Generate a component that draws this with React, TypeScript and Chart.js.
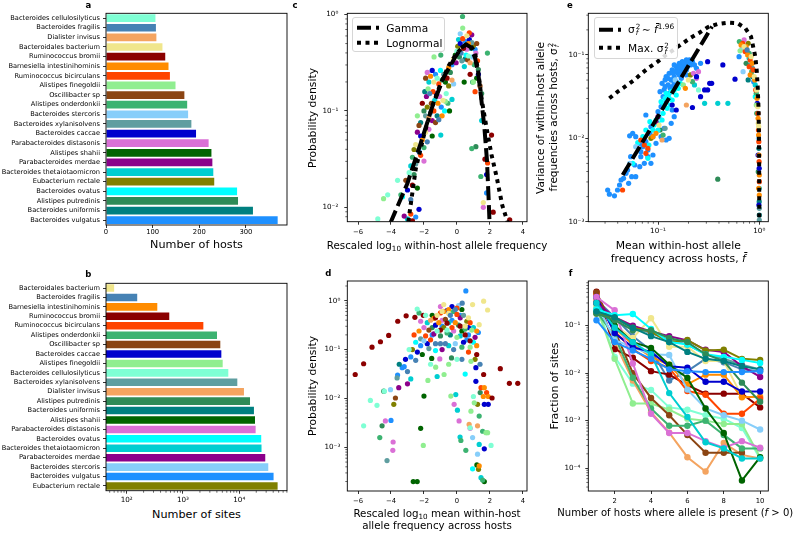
import React, { useEffect, useRef } from 'react';
import { Chart, registerables } from 'chart.js';

Chart.register(...registerables);

const FONT = 'DejaVu Sans';

// ---------- species ----------
const speciesNames = [
  'Bacteroides cellulosilyticus', 'Bacteroides fragilis', 'Dialister invisus', 'Bacteroidales bacterium',
  'Ruminococcus bromii', 'Barnesiella intestinihominis', 'Ruminococcus bicirculans', 'Alistipes finegoldii',
  'Oscillibacter sp', 'Alistipes onderdonkii', 'Bacteroides stercoris', 'Bacteroides xylanisolvens',
  'Bacteroides caccae', 'Parabacteroides distasonis', 'Alistipes shahii', 'Parabacteroides merdae',
  'Bacteroides thetaiotaomicron', 'Eubacterium rectale', 'Bacteroides ovatus', 'Alistipes putredinis',
  'Bacteroides uniformis', 'Bacteroides vulgatus',
];
const speciesColors = [
  '#7fffd4', '#4682b4', '#f4a460', '#f0e68c', '#8b0000', '#ff8c00', '#ff4500', '#90ee90',
  '#8b4513', '#3cb371', '#87cefa', '#5f9ea0', '#0000cd', '#da70d6', '#006400', '#8b008b',
  '#00ced1', '#808000', '#00ffff', '#2e8b57', '#008080', '#1e90ff',
];

// ---------- panel a ----------
const hostsOrder = [0, 1, 2, 3, 4, 5, 6, 7, 8, 9, 10, 11, 12, 13, 14, 15, 16, 17, 18, 19, 20, 21];
const hostsCount = [106, 107, 108, 121, 127, 134, 137, 149, 168, 174, 176, 183, 193, 220, 226, 228, 230, 232, 281, 283, 315, 368];
const hostsTicks = [0, 100, 200, 300];
const hostsTickLabels = ['0', '100', '200', '300'];

// ---------- panel b ----------
const sitesOrder = [3, 1, 5, 4, 6, 9, 8, 12, 7, 0, 11, 2, 19, 20, 14, 13, 18, 16, 15, 10, 21, 17];
const sitesCount = [60, 154, 350, 571, 2300, 4020, 4600, 4800, 5070, 6380, 9220, 12100, 15500, 18200, 19000, 19500, 24500, 24800, 28900, 32700, 40600, 47900];
const sitesTicks = [100, 1000, 10000];
const sitesTickLabels = ['10²', '10³', '10⁴'];

// ---------- panel c ----------
const rescaledTicks = [-6, -4, -2, 0, 2, 4];
const rescaledTickLabels = ['−6', '−4', '−2', '0', '2', '4'];
const cYTicks = [0.01, 0.1, 1];
const cYTickLabels = ['10⁻²', '10⁻¹', '10⁰'];
const gammaX = [-4.05, -3.0, -2.2, -1.5, -0.8, -0.1, 0.3, 0.55, 0.85, 1.1, 1.3, 1.46, 1.66, 1.82, 1.92, 1.98];
const gammaY = [0.0068, 0.0178, 0.0462, 0.11, 0.224, 0.363, 0.457, 0.49, 0.457, 0.355, 0.24, 0.141, 0.069, 0.031, 0.0126, 0.0068];
const lognormX = [-2.95, -2.5, -2.0, -1.5, -1.0, -0.5, 0.0, 0.5, 0.8, 1.1, 1.3, 1.5, 1.8, 2.1, 2.4, 2.75, 3.1];
const lognormY = [0.0071, 0.025, 0.056, 0.112, 0.19, 0.295, 0.4, 0.48, 0.49, 0.4, 0.25, 0.132, 0.066, 0.035, 0.021, 0.0105, 0.0068];
// [rescaled log10 frequency, log10 density, species]
const cPoints: number[][] = [
  [0.34, -0.02, 9], [0.35, -0.14, 7], [0.6, -0.22, 3], [0.75, -0.19, 6], [0.9, -0.21, 15], [0.1, -0.26, 16], [0.2, -0.3, 12],
  [0.5, -0.28, 21], [0.7, -0.3, 5], [1.0, -0.32, 17], [0.85, -0.35, 20], [0.4, -0.35, 4], [0.0, -0.38, 0], [-0.1, -0.42, 14],
  [0.15, -0.44, 19], [0.55, -0.42, 18], [0.95, -0.44, 10], [1.15, -0.4, 13], [1.25, -0.48, 6], [0.3, -0.48, 11], [0.65, -0.47, 8],
  [0.8, -0.5, 2], [-0.3, -0.52, 21], [1.05, -0.52, 9], [0.45, -0.54, 16], [-0.5, -0.55, 5], [1.3, -0.57, 19], [0.25, -0.4, 1],
  [0.6, -0.36, 13], [0.05, -0.33, 17], [-0.2, -0.46, 3], [1.1, -0.36, 21], [0.7, -0.43, 0], [0.9, -0.29, 11], [0.35, -0.25, 6],
  [0.2, -0.2, 10], [0.75, -0.26, 12], [1.2, -0.3, 8], [-0.05, -0.5, 15], [0.5, -0.46, 20],
  [1.2, -0.66, 14], [1.0, -0.7, 7], [0.44, -0.7, 14], [0.95, -0.7, 9], [1.3, -0.62, 12], [1.4, -0.74, 8], [1.5, -0.82, 19],
  [1.85, -0.4, 9], [0.8, -0.62, 4], [1.1, -0.8, 6],
  [0.9, -1.39, 9], [1.15, -1.37, 19], [1.45, -1.68, 9], [1.86, -1.54, 6], [1.8, -1.66, 12], [1.7, -1.5, 4], [1.6, -1.95, 3],
  [1.6, -2.0, 13], [2.2, -2.05, 4], [3.2, -2.13, 4], [1.8, -1.85, 21], [2.1, -1.25, 4], [1.5, -1.1, 16],
  [-1.9, -0.66, 8], [-1.8, -0.6, 13], [-1.7, -0.7, 16], [-1.6, -0.64, 5], [-1.5, -0.58, 12], [-1.4, -0.7, 3], [-1.3, -0.62, 21],
  [-1.2, -0.66, 0], [-1.1, -0.72, 6], [-1.0, -0.58, 18], [-0.9, -0.68, 9], [-0.8, -0.62, 11], [-0.7, -0.7, 14], [-0.6, -0.66, 4],
  [-0.5, -0.74, 17], [-0.4, -0.6, 19], [-0.3, -0.68, 2], [-0.2, -0.72, 10],
  [-1.95, -0.8, 20], [-1.85, -0.85, 15], [-1.75, -0.77, 7], [-1.65, -0.82, 1], [-1.55, -0.92, 8], [-1.45, -0.8, 6],
  [-1.35, -0.89, 16], [-1.25, -0.82, 12], [-1.15, -0.92, 5], [-1.05, -0.85, 13], [-0.95, -0.96, 21], [-0.85, -0.89, 3],
  [-0.75, -1.0, 18], [-0.65, -0.82, 0], [-0.55, -0.92, 9], [-0.45, -1.0, 14],
  [-2.1, -0.92, 4], [-2.0, -1.0, 19], [-1.9, -1.05, 11], [-1.8, -0.96, 17], [-1.7, -1.07, 2], [-1.6, -1.02, 10], [-1.5, -1.1, 15],
  [-1.4, -1.0, 6], [-1.2, -1.05, 20], [-1.1, -1.09, 1], [-0.9, -1.05, 5], [-0.98, -1.25, 16], [-1.39, -0.44, 7], [-0.98, -0.42, 9],
  [-1.3, -1.12, 8], [-0.7, -0.9, 7], [-0.3, -0.88, 16],
  [-2.3, -1.15, 8], [-2.2, -1.26, 12], [-2.4, -1.22, 15], [-2.1, -1.3, 5], [-2.5, -1.35, 3], [-2.6, -1.4, 17], [-2.3, -1.42, 21],
  [-2.7, -1.48, 9], [-2.2, -1.46, 6], [-2.8, -1.57, 16], [-2.5, -1.55, 11], [-2.0, -1.52, 13], [-2.9, -1.64, 0], [-2.6, -1.66, 19],
  [-3.1, -1.72, 8], [-2.7, -1.77, 4], [-3.0, -1.82, 12], [-2.4, -1.8, 14], [-3.3, -1.89, 18], [-2.8, -1.92, 1], [-3.6, -1.72, 0],
  [-4.2, -1.87, 0], [-4.45, -1.91, 7], [-3.4, -1.87, 9], [-2.8, -2.07, 6], [-2.5, -2.1, 21], [-3.0, -2.12, 16], [-2.7, -2.14, 4],
  [-4.8, -2.12, 0], [-3.2, -2.09, 15], [-2.3, -2.02, 12], [-2.2, -1.12, 20], [-1.9, -1.22, 3], [-1.7, -1.19, 13], [-2.4, -1.05, 7],
  [-1.5, -1.26, 14], [-2.0, -1.38, 9], [-1.8, -1.32, 1],
];

// ---------- panel d ----------
const dYTicks = [0.001, 0.01, 0.1, 1];
const dYTickLabels = ['10⁻³', '10⁻²', '10⁻¹', '10⁰'];
// [rescaled log10 mean frequency, log10 density, species]
const dPoints: number[][] = [
  [-6.17, -1.51, 4], [-5.66, -1.29, 4], [-5.15, -0.95, 4], [-4.64, -0.84, 4], [-4.14, -0.71, 4], [-3.59, -0.42, 4], [-3.08, -0.31, 4],
  [-2.55, -0.34, 4], [-2.04, -0.3, 4], [2.63, -1.39, 4], [3.18, -1.69, 4], [3.69, -1.69, 4], [2.13, -1.99, 4], [1.62, -1.51, 4],
  [-1.3, -0.35, 4], [-0.6, -0.46, 4], [0.2, -0.52, 4], [0.8, -0.82, 4], [1.2, -1.1, 4], [-1.0, -0.6, 4], [0.5, -0.7, 4],
  [1.62, -0.01, 3], [1.86, -0.19, 3], [0.95, -0.08, 3], [1.35, -0.49, 3], [-0.9, -0.22, 3], [-0.5, -0.26, 3], [0.5, -0.52, 3], [0.7, -0.35, 3],
  [0.54, 0.2, 21], [0.2, -0.3, 21], [-0.3, -0.4, 21], [-0.9, -0.52, 21], [-1.5, -0.7, 21], [-2.2, -0.92, 21], [-2.8, -1.15, 21],
  [-3.2, -1.35, 21], [-3.6, -1.52, 21], [-4.0, -2.45, 21], [0.7, -0.7, 21], [1.3, -0.65, 21],
  [0.32, -0.05, 1], [-0.4, -0.3, 1], [-1.3, -0.88, 1], [-1.0, -0.88, 1], [-0.7, -0.88, 1], [-0.2, -1.0, 1], [0.3, -1.2, 1],
  [-2.5, -1.22, 1], [-3.0, -1.45, 1], [1.4, -1.3, 1], [-0.1, -0.18, 1],
  [-2.41, -0.17, 0], [-5.66, -2.56, 0], [-5.25, -2.04, 0], [-4.85, -2.14, 0], [-4.4, -1.85, 0], [-1.6, -1.3, 0], [-2.9, -1.0, 0],
  [0.8, -2.6, 0], [1.0, -1.96, 0], [-0.6, -0.6, 0], [2.07, -2.96, 0],
  [-2.6, -0.7, 6], [-2.3, -0.62, 5], [-2.0, -0.55, 13], [-1.8, -0.45, 16], [-1.6, -0.4, 2], [-1.4, -0.36, 5], [-1.2, -0.3, 3],
  [-1.0, -0.25, 6], [-0.8, -0.22, 5], [-0.6, -0.2, 12], [-0.4, -0.25, 18], [-0.2, -0.22, 9], [0.0, -0.28, 6], [0.2, -0.35, 15],
  [0.4, -0.3, 11], [0.6, -0.42, 17], [0.8, -0.45, 6], [1.0, -0.55, 16], [1.2, -0.62, 5],
  [-2.5, -0.85, 18], [-2.2, -0.78, 11], [-1.9, -0.72, 6], [-1.7, -0.6, 8], [-1.5, -0.55, 19], [-1.3, -0.5, 12], [-1.1, -0.45, 5],
  [-0.9, -0.4, 13], [-0.7, -0.38, 8], [-0.5, -0.45, 16], [-0.3, -0.55, 6], [-0.1, -0.45, 5], [0.1, -0.5, 19], [0.3, -0.62, 14],
  [0.5, -0.58, 9], [0.7, -0.55, 12], [0.9, -0.6, 7], [1.1, -0.75, 15],
  [-2.0, -0.82, 10], [-1.8, -0.88, 12], [-1.6, -0.8, 6], [-1.4, -0.68, 15], [-1.2, -0.62, 0], [-1.0, -0.72, 19], [-0.8, -0.55, 17],
  [-0.6, -0.66, 9], [-0.4, -0.7, 20], [-0.2, -0.62, 13], [0.0, -0.75, 7], [0.2, -0.72, 16], [0.4, -0.85, 12], [0.6, -0.8, 21],
  [0.8, -0.95, 7], [1.0, -0.85, 18], [1.2, -0.92, 5],
  [-2.7, -1.0, 17], [-2.4, -1.05, 12], [-2.1, -1.1, 14], [-1.7, -0.98, 11], [-1.3, -1.02, 18], [-0.9, -1.0, 15], [-0.5, -0.92, 16],
  [-0.1, -0.88, 10], [0.3, -0.95, 9], [0.7, -1.05, 6], [1.1, -1.2, 17],
  [-1.5, -0.3, 14], [-1.0, -0.12, 13], [-0.5, -0.18, 5], [0.0, -0.15, 6], [-0.8, -0.08, 3], [-0.3, -0.12, 12], [0.3, -0.18, 14],
  [0.1, -0.1, 10], [-2.2, -0.42, 13], [-1.9, -0.3, 0], [-2.3, -0.25, 9],
  [-3.12, -1.2, 12], [-3.32, -1.37, 21], [-3.63, -1.58, 11], [-3.53, -1.78, 15], [-3.73, -1.99, 8], [-3.83, -2.12, 17],
  [-4.34, -2.46, 13], [-4.54, -2.56, 19], [-4.68, -2.8, 9], [-4.24, -3.27, 11], [-3.87, -2.89, 13], [-3.89, -3.06, 13],
  [-4.44, -1.85, 19], [-4.03, -1.82, 10],
  [-2.2, -2.61, 14], [-2.04, -2.96, 7], [-2.65, -3.7, 14], [-2.41, -3.7, 14], [-2.0, -1.95, 14], [-1.76, -1.63, 7], [-1.53, -1.18, 14],
  [-1.29, -1.36, 7], [-1.04, -1.19, 13], [-0.78, -1.51, 7], [-0.33, -1.17, 19], [-0.37, -1.95, 7], [-0.07, -1.92, 16],
  [-0.17, -2.12, 13], [0.13, -2.46, 13], [0.03, -2.24, 16], [0.19, -2.79, 16], [0.24, -2.86, 9], [0.54, -3.06, 9], [0.74, -2.53, 2],
  [0.8, -2.61, 13], [0.95, -2.8, 10], [0.85, -2.26, 7],
  [0.85, -1.24, 7], [1.15, -1.37, 12], [1.15, -1.65, 12], [1.46, -1.78, 6], [1.66, -1.78, 5], [1.41, -1.88, 19], [1.05, -2.09, 7],
  [1.25, -2.12, 17], [1.35, -2.36, 9], [1.25, -2.56, 2], [1.56, -2.67, 9], [1.76, -2.7, 7], [1.86, -2.7, 7], [1.35, -2.94, 16],
  [1.66, -3.03, 12], [1.25, -3.14, 10], [1.21, -3.36, 14], [1.35, -3.38, 5], [1.31, -3.45, 17], [0.95, -3.44, 18], [1.46, -3.62, 16],
  [1.56, -3.67, 9], [1.66, -3.7, 14], [1.9, -2.12, 12], [1.66, -2.12, 12], [1.6, -1.96, 5], [1.8, -1.88, 6], [1.9, -1.96, 5],
  [-3.5, -1.3, 20], [-2.8, -1.6, 16], [-3.0, -1.7, 15], [-1.2, -1.55, 16], [-0.5, -1.3, 7], [0.5, -1.5, 18], [0.0, -1.2, 0],
];

// ---------- panel e ----------
const eXTicks = [0.1, 1];
const eXTickLabels = ['10⁻¹', '10⁰'];
const eYTicks = [0.001, 0.01, 0.1];
const eYTickLabels = ['10⁻³', '10⁻²', '10⁻¹'];
const powerLawX = [0.0448, 0.12, 0.341];
const powerLawY = [0.00363, 0.0265, 0.219];
const maxVarX = [0.0331, 0.04, 0.0483, 0.0583, 0.0679, 0.082, 0.0993, 0.12, 0.145, 0.175, 0.212, 0.256, 0.309, 0.388, 0.487, 0.611, 0.728, 0.828, 0.914, 0.942, 0.964, 0.984, 0.992, 0.996, 0.998, 0.999];
const maxVarY = [0.0302, 0.0363, 0.0425, 0.0501, 0.0592, 0.0711, 0.0832, 0.1, 0.117, 0.138, 0.162, 0.185, 0.215, 0.235, 0.244, 0.24, 0.209, 0.166, 0.095, 0.066, 0.042, 0.022, 0.0105, 0.0055, 0.0026, 0.00095];
// [log10 mean frequency, log10 variance, species]
const ePoints: number[][] = [
  [-0.92, -1.26, 21], [-0.89, -1.22, 21], [-0.86, -1.18, 21], [-0.82, -1.14, 21], [-0.79, -1.10, 21], [-0.76, -1.08, 21],
  [-0.72, -1.06, 21], [-0.69, -1.06, 21], [-0.66, -1.08, 21], [-0.87, -1.30, 21], [-0.84, -1.26, 21], [-0.80, -1.22, 21],
  [-0.77, -1.18, 21], [-0.74, -1.16, 21], [-0.71, -1.14, 21], [-0.90, -1.36, 21], [-0.86, -1.38, 21], [-0.82, -1.32, 21],
  [-0.77, -1.28, 21], [-0.72, -1.24, 21], [-0.94, -1.42, 21], [-0.89, -1.46, 21], [-0.95, -1.50, 21], [-0.92, -1.56, 21],
  [-0.97, -1.62, 21], [-1.0, -1.68, 21], [-0.84, -1.12, 21], [-0.80, -1.16, 21], [-0.75, -1.12, 21], [-0.70, -1.10, 21],
  [-0.58, -1.10, 21], [-0.62, -1.16, 21],
  [-0.96, -1.34, 21], [-0.93, -1.30, 21], [-0.90, -1.28, 21], [-0.85, -1.22, 21], [-0.81, -1.18, 21], [-0.78, -1.14, 21],
  [-0.74, -1.10, 21], [-0.88, -1.40, 21], [-0.84, -1.34, 21], [-0.79, -1.24, 21], [-0.76, -1.20, 21], [-0.98, -1.44, 21],
  [-0.93, -1.38, 21], [-0.86, -1.30, 21], [-0.83, -1.20, 21], [-0.68, -1.12, 21], [-0.72, -1.18, 21], [-0.64, -1.12, 21],
  [-1.07, -1.86, 21], [-1.08, -1.94, 21], [-1.05, -1.98, 21], [-1.12, -2.04, 21], [-1.15, -2.10, 21], [-1.10, -2.14, 21],
  [-1.02, -2.06, 21], [-0.97, -1.98, 21], [-0.92, -2.02, 21], [-0.89, -2.0, 21], [-0.94, -1.88, 21], [-0.86, -1.66, 21],
  [-0.84, -1.74, 21], [-0.87, -1.82, 21], [-1.12, -1.72, 21], [-1.28, -1.97, 21], [-1.25, -1.94, 21], [-1.22, -1.98, 21],
  [-1.18, -2.06, 21], [-1.15, -2.04, 21], [-1.17, -2.16, 21], [-1.27, -2.22, 21], [-1.23, -2.32, 21], [-1.22, -2.46, 21],
  [-1.18, -2.34, 21], [-1.17, -2.22, 21], [-1.135, -2.30, 21], [-1.10, -2.22, 21], [-1.07, -2.30, 21], [-1.05, -2.20, 21],
  [-1.316, -2.42, 21], [-1.30, -2.38, 21], [-1.34, -2.48, 21], [-1.365, -2.50, 21], [-1.38, -2.56, 21], [-1.40, -2.62, 21],
  [-1.43, -2.69, 21], [-1.48, -2.67, 21], [-1.497, -2.62, 21], [-1.26, -2.46, 21], [-1.29, -2.54, 21], [-0.2, -1.02, 21],
  [-0.92, -1.46, 18], [-0.87, -1.44, 18], [-0.84, -1.42, 18], [-0.82, -1.48, 18], [-0.89, -1.52, 18], [-0.94, -1.60, 18],
  [-0.91, -1.64, 18], [-0.95, -1.70, 18], [-0.99, -1.74, 18], [-1.02, -1.78, 18], [-1.04, -1.84, 18], [-1.0, -1.90, 18],
  [-0.86, -1.54, 18], [-0.80, -1.40, 18], [-0.78, -1.34, 18], [-0.04, -1.5, 18], [-1.09, -2.08, 18],
  [-0.97, -1.56, 18], [-0.93, -1.52, 18], [-0.90, -1.48, 18], [-0.88, -1.60, 18], [-1.05, -1.90, 18], [-1.08, -1.80, 18],
  [-1.12, -1.90, 18], [-1.15, -1.98, 18], [-1.20, -2.05, 18], [-1.0, -1.82, 18], [-0.96, -1.78, 18], [-1.10, -2.24, 18],
  [-1.25, -2.30, 18],
  [-1.22, -2.1, 10], [-0.83, -1.3, 10], [-1.28, -2.3, 10], [-0.16, -1.2, 10], [-0.008, -2.0, 10], [-0.17, -0.92, 10],
  [-1.35, -2.62, 6], [-1.10, -2.12, 6], [-1.12, -2.18, 6], [-1.135, -2.08, 6], [-1.17, -2.02, 6], [-0.164, -0.86, 6],
  [-0.14, -0.96, 6], [-0.09, -1.06, 6], [-0.06, -1.18, 6], [-0.035, -1.42, 6], [-0.014, -1.7, 6], [-0.008, -1.9, 6],
  [-0.005, -2.04, 6], [-0.002, -2.28, 6], [0, -2.52, 6], [-0.1, -1.14, 6],
  [-1.05, -1.98, 5], [-1.02, -1.94, 5], [-0.73, -1.40, 5], [-0.18, -0.88, 5], [-0.13, -0.90, 5], [-0.115, -1.0, 5],
  [-0.07, -1.10, 5], [-0.045, -1.3, 5], [-0.022, -1.52, 5], [-0.012, -1.76, 5], [-0.007, -1.96, 5], [-0.003, -2.2, 5],
  [0, -2.44, 5], [0, -2.68, 5], [-0.09, -1.24, 5], [-0.006, -2.6, 5],
  [-0.96, -2.02, 2], [-0.72, -1.6, 2],
  [-1.0, -1.74, 15], [-1.02, -1.8, 15], [-0.98, -1.9, 19], [-0.95, -1.96, 9], [-1.07, -2.0, 17], [-0.93, -1.88, 11], [-0.99, -1.84, 3],
  [-0.65, -1.22, 13], [-0.62, -1.28, 13], [-0.60, -1.2, 13], [-0.68, -1.24, 17], [-0.7, -1.3, 3], [-0.75, -1.36, 7],
  [-0.64, -1.36, 16], [-0.6, -1.42, 0], [-0.66, -1.32, 9],
  [-0.51, -1.08, 12], [-0.36, -1.12, 12], [-0.49, -1.34, 12], [-0.47, -1.34, 12], [-0.54, -1.42, 12], [-0.51, -1.42, 12],
  [-0.58, -1.5, 12], [-0.66, -1.63, 12], [-0.24, -1.29, 12], [-0.62, -1.26, 12], [-0.82, -1.66, 12], [-0.86, -1.6, 12],
  [-0.02, -1.58, 12], [-0.001, -2.36, 12], [-0.012, -2.2, 12], [-0.004, -2.8, 12],
  [-0.54, -1.58, 16], [-0.41, -1.58, 16], [-0.31, -1.58, 16], [-0.10, -1.04, 16], [-0.04, -1.36, 16], [0, -2.6, 16],
  [-0.41, -2.49, 19], [-0.13, -1.1, 19], [-0.01, -2.4, 19],
  [-0.197, -0.84, 9], [-0.15, -0.90, 3], [-0.12, -0.94, 1], [-0.10, -0.98, 9], [-0.08, -1.02, 3], [-0.085, -1.12, 21],
  [-0.066, -1.16, 11], [-0.075, -1.2, 9], [-0.065, -1.26, 20], [-0.05, -1.26, 3], [-0.055, -1.32, 21], [-0.03, -1.46, 9],
  [-0.026, -1.42, 3], [-0.016, -1.62, 3], [-0.01, -1.82, 3], [-0.004, -2.12, 20], [-0.001, -2.76, 20], [0, -2.84, 11],
  [0, -2.92, 20], [0, -2.98, 11], [-0.15, -0.82, 13], [-0.11, -0.86, 17], [-0.19, -0.95, 7], [-0.11, -1.3, 20],
  [-0.006, -1.86, 3], [-0.03, -1.6, 7], [-0.026, -1.7, 9],
];

// ---------- panel f ----------
const hostsPresent = [1, 2, 3, 4, 5, 6, 7, 8, 9, 10];
const fXTicks = [2, 4, 6, 8, 10];
const fXTickLabels = ['2', '4', '6', '8', '10'];
const fYTicks = [0.0001, 0.001, 0.01, 0.1];
const fYTickLabels = ['10⁻⁴', '10⁻³', '10⁻²', '10⁻¹'];
// fraction of sites, one row per species (same order as speciesNames)
const fractionSites: (number | null)[][] = [
  [0.30, 0.022, 0.006, 0.0044, 0.0019, 0.0017, 0.0013, 0.0011, 0.0007, 0.00016],
  [0.35, 0.15, 0.06, 0.03, 0.007, 0.011, 0.02, 0.017, 0.012, 0.011],
  [0.35, 0.045, 0.007, 0.0015, 0.00056, 0.00017, 0.000085, 0.00034, 0.00019, 0.00016],
  [0.28, 0.1, 0.055, 0.143, 0.036, 0.036, 0.018, 0.018, 0.0032, null],
  [0.52, 0.032, 0.021, 0.011, 0.0093, 0.0056, 0.0037, 0.0037, 0.0037, 0.0019],
  [0.45, 0.09, 0.04, 0.022, 0.015, 0.0058, 0.0093, 0.0093, 0.0031, 0.0032],
  [0.48, 0.075, 0.032, 0.018, 0.013, 0.0042, 0.0035, 0.0014, 0.0014, 0.0029],
  [0.25, 0.02, 0.0023, 0.0023, 0.0017, 0.0011, 0.001, 0.00085, 0.00085, 0.00017],
  [0.5, 0.08, 0.01, 0.003, 0.0013, 0.0005, 0.00021, 0.00021, 0.00021, null],
  [0.2, 0.06, 0.008, 0.0018, 0.00078, 0.00078, 0.001, 0.0005, 0.00026, 0.00026],
  [0.3, 0.05, 0.035, 0.025, 0.024, 0.0045, 0.0018, 0.0013, 0.001, 0.00065],
  [0.22, 0.14, 0.09, 0.07, 0.05, 0.04, 0.025, 0.02, 0.015, 0.012],
  [0.4, 0.07, 0.035, 0.028, 0.014, 0.013, 0.0066, 0.0066, 0.0041, 0.0041],
  [0.4, 0.21, 0.016, 0.0014, 0.00055, 0.00055, 0.00037, 0.00027, 0.00037, 0.00027],
  [0.3, 0.1, 0.045, 0.034, 0.015, 0.0079, 0.0018, 0.00055, 0.000055, 0.00017],
  [0.3, 0.15, 0.1, 0.075, 0.06, 0.049, 0.031, 0.028, 0.014, 0.0083],
  [0.3, 0.09, 0.045, 0.025, 0.0038, 0.0012, 0.00035, 0.00026, 0.00016, 0.00016],
  [0.18, 0.15, 0.09, 0.075, 0.045, 0.05, 0.03, 0.031, 0.02, 0.019],
  [0.22, 0.165, 0.176, 0.085, 0.045, 0.04, 0.025, 0.022, 0.019, 0.0164],
  [0.18, 0.13, 0.08, 0.08, 0.055, 0.045, 0.025, 0.018, 0.0063, 0.0025],
  [0.2, 0.15, 0.09, 0.06, 0.045, 0.028, 0.02, 0.018, 0.014, 0.012],
  [0.13, 0.045, 0.03, 0.02, 0.012, 0.011, 0.0105, 0.0105, 0.0105, 0.011],
];

// ---------- layout helpers ----------
type Box = { L: number; T: number; R: number; B: number };
const PAD_TOP = 10;
const PAD_RIGHT = 8;

function makeLayout(b: Box, ml: number, mb: number) {
  const x0 = Math.floor(b.L - ml);
  const y0 = Math.floor(b.T - PAD_TOP);
  const w = Math.ceil(b.R + PAD_RIGHT) - x0;
  const h = Math.ceil(b.B + mb) - y0;
  return {
    x0, y0, w, h,
    padding: { top: b.T - y0, right: x0 + w - b.R, left: 0, bottom: 0 },
    yW: b.L - x0,
    xH: y0 + h - b.B,
  };
}

const framePlugin = {
  id: 'frame',
  afterDraw(chart: any) {
    const { ctx, chartArea: a } = chart;
    ctx.save();
    ctx.strokeStyle = '#000';
    ctx.lineWidth = 0.6;
    for (const key of ['x', 'y']) {
      const s = chart.scales[key];
      if (!s || s.type !== 'logarithmic') continue;
      const lo = Math.floor(Math.log10(s.min));
      const hi = Math.ceil(Math.log10(s.max));
      for (let e = lo; e <= hi; e++) {
        for (let k = 2; k <= 9; k++) {
          const v = k * Math.pow(10, e);
          if (v < s.min || v > s.max) continue;
          const p = s.getPixelForValue(v);
          ctx.beginPath();
          if (key === 'x') { ctx.moveTo(p, a.bottom); ctx.lineTo(p, a.bottom + 2); }
          else { ctx.moveTo(a.left, p); ctx.lineTo(a.left - 2, p); }
          ctx.stroke();
        }
      }
    }
    ctx.lineWidth = 0.9;
    ctx.strokeRect(a.left, a.top, a.right - a.left, a.bottom - a.top);
    ctx.restore();
  },
};

function valueAxis(type: string, min: number, max: number, ticks: number[], labels: string[], size: number, pad: number, fit: (s: any) => void) {
  return {
    type, min, max,
    afterBuildTicks: (s: any) => { s.ticks = ticks.map((v) => ({ value: v, major: true })); },
    afterFit: fit,
    ticks: {
      autoSkip: false, maxRotation: 0, color: '#000', padding: pad,
      font: { family: FONT, size },
      callback: (_v: any, i: number) => labels[i],
    },
    grid: { drawOnChartArea: false, drawTicks: true, tickLength: 3, tickColor: '#000', tickWidth: 0.8 },
    border: { display: false },
  };
}

function baseOptions(lay: any, scales: any) {
  return {
    animation: false,
    responsive: true,
    maintainAspectRatio: false,
    events: [],
    layout: { padding: lay.padding },
    plugins: { legend: { display: false }, tooltip: { enabled: false }, title: { display: false } },
    scales,
  };
}

function scatterSets(points: number[][], logX: boolean, logY: boolean, radius: number) {
  return speciesNames.map((name, s) => ({
    label: name,
    data: points.filter((p) => p[2] === s).map((p) => ({ x: logX ? Math.pow(10, p[0]) : p[0], y: logY ? Math.pow(10, p[1]) : p[1] })),
    backgroundColor: speciesColors[s],
    borderColor: speciesColors[s],
    pointRadius: radius,
    pointBorderWidth: 0,
    showLine: false,
  }));
}

function curveSet(label: string, xs: number[], ys: number[], dash: number[]) {
  return {
    label,
    data: xs.map((x, i) => ({ x, y: ys[i] })),
    showLine: true,
    borderColor: '#000',
    backgroundColor: '#000',
    borderWidth: 4,
    borderDash: dash,
    borderCapStyle: 'butt',
    pointRadius: 0,
    tension: 0,
    fill: false,
  };
}

// ---------- chart builders ----------
const plotA: Box = { L: 106, T: 13.3, R: 287, B: 225 };
const plotB: Box = { L: 106, T: 283.3, R: 287, B: 490.7 };
const plotC: Box = { L: 347.3, T: 13.3, R: 527, B: 221.7 };
const plotD: Box = { L: 347.3, T: 281, R: 527, B: 491 };
const plotE: Box = { L: 588.3, T: 13.3, R: 768.3, B: 221.7 };
const plotF: Box = { L: 588.3, T: 281, R: 768.3, B: 491 };

function categoryAxis(fit: (s: any) => void) {
  return {
    type: 'category',
    offset: true,
    afterFit: fit,
    ticks: { autoSkip: false, color: '#000', padding: 3, font: { family: FONT, size: 6.65 } },
    grid: { offset: false, drawOnChartArea: false, drawTicks: true, tickLength: 3, tickColor: '#000', tickWidth: 0.8 },
    border: { display: false },
  };
}

function buildA(lay: any) {
  return {
    type: 'bar',
    data: {
      labels: hostsOrder.map((s) => speciesNames[s]),
      datasets: [{ data: hostsCount, backgroundColor: hostsOrder.map((s) => speciesColors[s]), barPercentage: 0.8, categoryPercentage: 1, borderWidth: 0 }],
    },
    options: {
      ...baseOptions(lay, {
        x: valueAxis('linear', 0, 388, hostsTicks, hostsTickLabels, 6.8, 0, (s: any) => { s.height = lay.xH; }),
        y: categoryAxis((s: any) => { s.width = lay.yW; }),
      }),
      indexAxis: 'y',
    },
    plugins: [framePlugin],
  };
}

function buildB(lay: any) {
  return {
    type: 'bar',
    data: {
      labels: sitesOrder.map((s) => speciesNames[s]),
      datasets: [{ data: sitesCount, backgroundColor: sitesOrder.map((s) => speciesColors[s]), barPercentage: 0.8, categoryPercentage: 1, borderWidth: 0 }],
    },
    options: {
      ...baseOptions(lay, {
        x: valueAxis('logarithmic', 43, 70300, sitesTicks, sitesTickLabels, 7.2, 2, (s: any) => { s.height = lay.xH; }),
        y: categoryAxis((s: any) => { s.width = lay.yW; }),
      }),
      indexAxis: 'y',
    },
    plugins: [framePlugin],
  };
}

function buildC(lay: any) {
  return {
    type: 'scatter',
    data: {
      datasets: [
        curveSet('Gamma', gammaX, gammaY, [14, 5]),
        curveSet('Lognormal', lognormX, lognormY, [4, 4.5]),
        ...scatterSets(cPoints, false, true, 2.6),
      ],
    },
    options: baseOptions(lay, {
      x: valueAxis('linear', -6.65, 4.25, rescaledTicks, rescaledTickLabels, 6.8, 3, (s: any) => { s.height = lay.xH; }),
      y: valueAxis('logarithmic', 0.0071, 1.03, cYTicks, cYTickLabels, 7.2, 6, (s: any) => { s.width = lay.yW; }),
    }),
    plugins: [framePlugin],
  };
}

function buildD(lay: any) {
  return {
    type: 'scatter',
    data: { datasets: scatterSets(dPoints, false, true, 2.6) },
    options: baseOptions(lay, {
      x: valueAxis('linear', -6.65, 4.25, rescaledTicks, rescaledTickLabels, 6.8, 3, (s: any) => { s.height = lay.xH; }),
      y: valueAxis('logarithmic', 0.000128, 2.53, dYTicks, dYTickLabels, 7.2, 4, (s: any) => { s.width = lay.yW; }),
    }),
    plugins: [framePlugin],
  };
}

function buildE(lay: any) {
  return {
    type: 'scatter',
    data: {
      datasets: [
        curveSet('power law', powerLawX, powerLawY, [14, 5]),
        curveSet('max variance', maxVarX, maxVarY, [4, 4.5]),
        ...scatterSets(ePoints, true, true, 2.6),
      ],
    },
    options: baseOptions(lay, {
      x: valueAxis('logarithmic', 0.0205, 1.227, eXTicks, eXTickLabels, 7.2, 2, (s: any) => { s.height = lay.xH; }),
      y: valueAxis('logarithmic', 0.001, 0.316, eYTicks, eYTickLabels, 7.2, 1, (s: any) => { s.width = lay.yW; }),
    }),
    plugins: [framePlugin],
  };
}

function buildF(lay: any) {
  const sets = speciesNames.map((name, s) => ({
    label: name,
    data: hostsPresent
      .map((n, i) => ({ x: n, y: fractionSites[s][i] }))
      .filter((p) => p.y !== null),
    showLine: true,
    borderColor: speciesColors[s],
    backgroundColor: speciesColors[s],
    borderWidth: 2,
    pointRadius: 3.2,
    pointBorderWidth: 0,
    tension: 0,
  }));
  return {
    type: 'scatter',
    data: { datasets: sets.reverse() },
    options: baseOptions(lay, {
      x: valueAxis('linear', 0.55, 10.45, fXTicks, fXTickLabels, 6.8, 3, (s: any) => { s.height = lay.xH; }),
      y: valueAxis('logarithmic', 0.000033, 0.87, fYTicks, fYTickLabels, 7.2, 5, (s: any) => { s.width = lay.yW; }),
    }),
    plugins: [framePlugin],
  };
}

function ChartPanel({ plot, ml, mb, build }: { plot: Box; ml: number; mb: number; build: (lay: any) => any }) {
  const ref = useRef<HTMLCanvasElement>(null);
  const lay = makeLayout(plot, ml, mb);
  useEffect(() => {
    const chart = new Chart(ref.current as HTMLCanvasElement, build(lay) as any);
    return () => chart.destroy();
  }, []);
  return (
    <div style={{ position: 'absolute', left: lay.x0, top: lay.y0, width: lay.w, height: lay.h }}>
      <canvas ref={ref} />
    </div>
  );
}

// ---------- text helpers ----------
function Txt({ x, y, size, rot = 0, bold = false, children }: any) {
  return (
    <div
      style={{
        position: 'absolute', left: x, top: y,
        transform: `translate(-50%, -50%) rotate(${rot}deg)`,
        fontFamily: FONT, fontSize: size, fontWeight: bold ? 'bold' : 'normal',
        lineHeight: 1.2, whiteSpace: 'nowrap', textAlign: 'center', color: '#000',
      }}
    >
      {children}
    </div>
  );
}

const Sub = ({ children }: any) => (
  <span style={{ fontSize: '0.7em', verticalAlign: '-0.3em', lineHeight: 0 }}>{children}</span>
);
const Sup = ({ children }: any) => (
  <span style={{ fontSize: '0.7em', verticalAlign: '0.5em', lineHeight: 0 }}>{children}</span>
);
// superscript "2" stacked over an italic subscript "f"
const SupSub = ({ sup, sub }: any) => (
  <span style={{ lineHeight: 0 }}>
    <span style={{ fontSize: '0.68em', verticalAlign: '0.55em', lineHeight: 0, marginLeft: 1 }}>{sup}</span>
    <span style={{ fontSize: '0.68em', verticalAlign: '-0.3em', lineHeight: 0, marginLeft: '-0.62em', fontStyle: 'italic' }}>{sub}</span>
  </span>
);
const FBar = () => <span style={{ fontStyle: 'italic' }}>f̄</span>;

function Handle({ dash }: { dash: string }) {
  return (
    <svg width={22} height={8} style={{ display: 'block' }}>
      <line x1={0} y1={4} x2={22} y2={4} stroke="#000" strokeWidth={4} strokeDasharray={dash} />
    </svg>
  );
}

function Legend({ left, top, width, height, rows }: any) {
  return (
    <div
      style={{
        position: 'absolute', left, top, width, height, boxSizing: 'border-box',
        border: '1px solid #d6d6d6', borderRadius: 3, background: 'rgba(255,255,255,0.85)',
        fontFamily: FONT, fontSize: 10.6, color: '#000',
      }}
    >
      {rows.map((r: any, i: number) => (
        <div key={i} style={{ position: 'absolute', left: 0, top: r.y, transform: 'translateY(-50%)', display: 'flex', alignItems: 'center', whiteSpace: 'nowrap', lineHeight: 1.2 }}>
          <div style={{ marginLeft: 4 }}><Handle dash={r.dash} /></div>
          <div style={{ marginLeft: 7 }}>{r.text}</div>
        </div>
      ))}
    </div>
  );
}

export default function App() {
  return (
    <div style={{ position: 'fixed', left: 0, top: 0, width: 800, height: 534, background: '#fff', overflow: 'hidden' }}>
      <ChartPanel plot={plotA} ml={106} mb={16} build={buildA} />
      <ChartPanel plot={plotB} ml={106} mb={16} build={buildB} />
      <ChartPanel plot={plotC} ml={40} mb={16} build={buildC} />
      <ChartPanel plot={plotD} ml={40} mb={16} build={buildD} />
      <ChartPanel plot={plotE} ml={40} mb={16} build={buildE} />
      <ChartPanel plot={plotF} ml={40} mb={16} build={buildF} />

      {/* panel letters */}
      <Txt x={88.3} y={4.5} size={8.5} bold>a</Txt>
      <Txt x={88.3} y={274} size={8.5} bold>b</Txt>
      <Txt x={295} y={4.5} size={8.5} bold>c</Txt>
      <Txt x={328.3} y={272.5} size={8.5} bold>d</Txt>
      <Txt x={570} y={5} size={8.5} bold>e</Txt>
      <Txt x={570.7} y={272.5} size={8.5} bold>f</Txt>

      {/* axis titles */}
      <Txt x={196.5} y={245} size={11.2}>Number of hosts</Txt>
      <Txt x={196.5} y={515} size={11.2}>Number of sites</Txt>

      <Txt x={437} y={245} size={10.3}>Rescaled log<Sub>10</Sub> within-host allele frequency</Txt>
      <Txt x={312.7} y={117.5} size={10.8} rot={-90}>Probability density</Txt>

      <Txt x={437} y={519} size={10.3}>
        <div>Rescaled log<Sub>10</Sub> mean within-host</div>
        <div>allele frequency across hosts</div>
      </Txt>
      <Txt x={312.7} y={386} size={10.8} rot={-90}>Probability density</Txt>

      <Txt x={678.3} y={253} size={10.8}>
        <div>Mean within-host allele</div>
        <div>frequency across hosts, <FBar /></div>
      </Txt>
      <Txt x={547} y={117.5} size={10.5} rot={-90}>
        <div>Variance of within-host allele</div>
        <div>frequencies across hosts, σ<SupSub sup="2" sub="f" /></div>
      </Txt>

      <Txt x={675.3} y={513.3} size={10.05}>Number of hosts where allele is present (<i>f</i> &gt; 0)</Txt>
      <Txt x={555} y={386} size={11} rot={-90}>Fraction of sites</Txt>

      {/* legends */}
      <Legend
        left={352.3} top={17.3} width={92.7} height={34.4}
        rows={[
          { y: 9.4, dash: '14 5', text: 'Gamma' },
          { y: 24.4, dash: '4 4.5', text: 'Lognormal' },
        ]}
      />
      <Legend
        left={594} top={17.3} width={84.3} height={42}
        rows={[
          { y: 11, dash: '14 5', text: <span>σ<SupSub sup="2" sub="f" /> ∼ <FBar /><Sup>1.96</Sup></span> },
          { y: 29.4, dash: '4 4.5', text: <span>Max. σ<SupSub sup="2" sub="f" /></span> },
        ]}
      />
    </div>
  );
}
